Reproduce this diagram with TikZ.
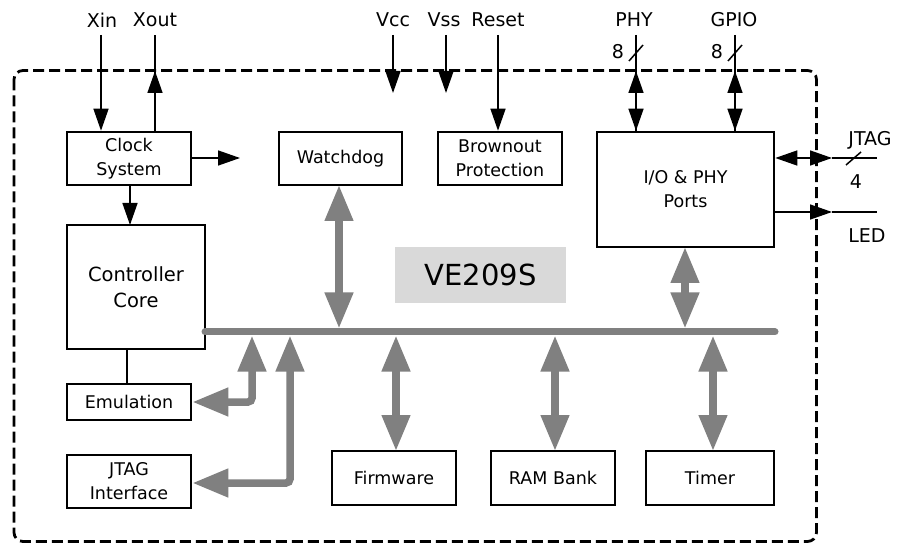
\documentclass[tikz,border=0pt]{standalone}
\usepackage{fontspec}
\setmainfont{DejaVu Sans}
\usetikzlibrary{arrows.meta}
\definecolor{busgray}{RGB}{128,128,128}
\definecolor{titlegray}{RGB}{217,217,217}
\begin{document}
\begin{tikzpicture}[x=1pt,y=-1pt,
  box/.style={draw, line width=2.6pt, align=center, inner sep=0pt, font=\fontsize{17.5}{24}\selectfont},
  bigbox/.style={box, font=\fontsize{19.5}{26}\selectfont},
  lbl/.style={inner sep=0pt, font=\fontsize{19}{22}\selectfont},
  wire/.style={line width=1.5pt},
  sig/.style={line width=1.5pt, -{Triangle[length=22pt,width=15pt]}},
  sigb/.style={line width=1.5pt, {Triangle[length=22pt,width=15pt]}-{Triangle[length=22pt,width=15pt]}},
  busline/.style={line width=7pt, busgray, line cap=round},
  busarrow/.style={line width=7.5pt, busgray, {Triangle[length=36pt,width=27pt]}-{Triangle[length=36pt,width=27pt]}},
  busarrowr/.style={line width=7.5pt, busgray, rounded corners=4pt, {Triangle[length=36pt,width=27pt]}-{Triangle[length=36pt,width=27pt]}}
]
\useasboundingbox (0,0) rectangle (897,545);

% chip border
\draw[line width=2.8pt, dash pattern=on 11pt off 5pt, rounded corners=9pt] (14,70.5) rectangle (816.5,541.5);

% title
\node[fill=titlegray, minimum width=171pt, minimum height=56pt, inner sep=0pt, font=\fontsize{29}{34}\selectfont] (title) at (480.5,275) {VE209S};

% blocks
\node[box, minimum width=124pt, minimum height=53pt] (clock) at (129,158.5) {Clock\\System};
\node[box, minimum width=123pt, minimum height=53pt] (wdog) at (340.5,158.5) {Watchdog};
\node[box, minimum width=124pt, minimum height=53pt] (brown) at (500,158.5) {Brownout\\Protection};
\node[box, minimum width=177pt, minimum height=115pt] (io) at (685.5,189.5) {I/O \& PHY\\Ports};
\node[bigbox, minimum width=138pt, minimum height=124pt] (core) at (136,287) {Controller\\Core};
\node[box, minimum width=124pt, minimum height=36pt] (emu) at (129,402) {Emulation};
\node[box, minimum width=124pt, minimum height=53pt] (jtagif) at (129,481.5) {JTAG\\Interface};
\node[box, minimum width=124pt, minimum height=54pt] (fw) at (394,478) {Firmware};
\node[box, minimum width=124pt, minimum height=54pt] (ram) at (553,478) {RAM Bank};
\node[box, minimum width=128pt, minimum height=54pt] (timer) at (710,478) {Timer};

% external labels
\node[lbl] (xin) at (102,20) {Xin};
\node[lbl] (xout) at (155,20) {Xout};
\node[lbl] (vcc) at (393,20) {Vcc};
\node[lbl] (vss) at (444,20) {Vss};
\node[lbl] (reset) at (498,20) {Reset};
\node[lbl] (phy) at (634,20) {PHY};
\node[lbl] (gpio) at (734,20) {GPIO};
\node[lbl] (phyn) at (618,52) {8};
\node[lbl] (gpion) at (717,52) {8};
\node[lbl] (jtag) at (870,140) {JTAG};
\node[lbl] (jtagn) at (856,182) {4};
\node[lbl] (led) at (867,236) {LED};

% coordinates
\coordinate (xinT) at (101,35);
\coordinate (xoutT) at (155,35);
\coordinate (xoutM) at (155,71);
\coordinate (vccT) at (393,35);
\coordinate (vccB) at (393,93);
\coordinate (vssT) at (446,35);
\coordinate (vssB) at (446,93);
\coordinate (resetT) at (498,35);
\coordinate (phyT) at (636,35);
\coordinate (phyM) at (636,71);
\coordinate (gpioT) at (735,35);
\coordinate (gpioM) at (735,71);
\coordinate (jtagM) at (832,158);
\coordinate (jtagE) at (877,158);
\coordinate (ledM) at (832,212);
\coordinate (ledE) at (877,212);
\coordinate (clkOut) at (240,158);
\coordinate (busL) at (205,332);
\coordinate (busR) at (775,332);

% black signals
\draw[sig] (xinT) -- (xinT |- clock.north);
\draw[wire] (clock.north -| xoutT) -- (xoutT);
\draw[sig] (clock.north -| xoutT) -- (xoutM);
\draw[sig] (vccT) -- (vccB);
\draw[sig] (vssT) -- (vssB);
\draw[sig] (resetT) -- (resetT |- brown.north);
\draw[wire] (phyT) -- (phyT |- io.north);
\draw[sigb] (phyM) -- (phyM |- io.north);
\draw[wire] (gpioT) -- (gpioT |- io.north);
\draw[sigb] (gpioM) -- (gpioM |- io.north);
\draw[wire] (629,61) -- (643,45);
\draw[wire] (728,61) -- (742,45);
\draw[sigb] (io.east |- jtagM) -- (jtagM);
\draw[wire] (jtagM) -- (jtagE);
\draw[wire] (846,165) -- (861,152);
\draw[sig] (io.east |- ledM) -- (ledM);
\draw[wire] (ledM) -- (ledE);
\draw[sig] (clock.east |- clkOut) -- (clkOut);
\draw[sig] (130,185) -- (130,225);
\draw[wire] (127,349) -- (127,384);

% bus
\draw[busline] (busL) -- (busR);
\draw[busarrow] (339,185) -- (339,328.5);
\draw[busarrow] (685,247) -- (685,328.5);
\draw[busarrow] (396,335.5) -- (396,451);
\draw[busarrow] (555,335.5) -- (555,451);
\draw[busarrow] (713,335.5) -- (713,451);
\draw[busarrowr] (252,335.5) -- (252,402) -- (emu.east);
\draw[busarrowr] (290,335.5) -- (290,483) -- (jtagif.east |- 0,483);
\end{tikzpicture}
\end{document}
